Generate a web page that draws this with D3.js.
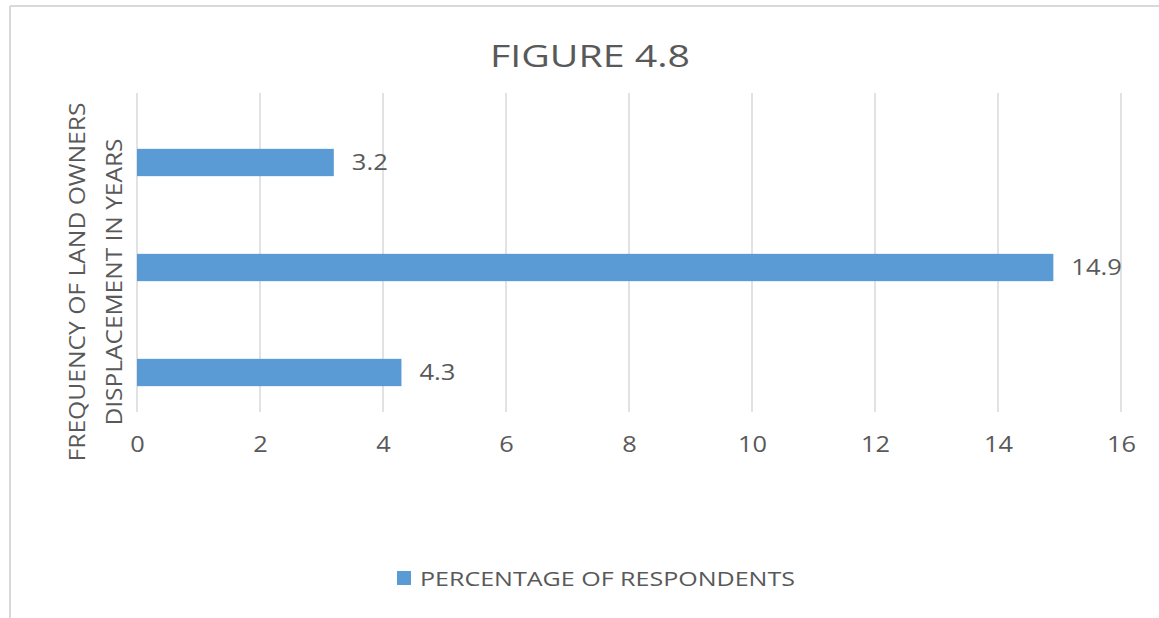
<html>
<head>
<script src="https://d3js.org/d3.v7.min.js"></script>
<style>
body { margin: 0; background: #fff; }
text { font-family: "Open Sans", sans-serif; fill: #595959; }
</style>
</head>
<body>
<svg id="chart" width="1159" height="618"></svg>
<script>
// data
var categories = ["a", "b", "c"];     // three unlabeled categories, top to bottom
var values = [3.2, 14.9, 4.3];
var xTicks = [0, 2, 4, 6, 8, 10, 12, 14, 16];
var seriesName = "PERCENTAGE OF RESPONDENTS";
var titleText = "FIGURE 4.8";
var yTitleLines = ["FREQUENCY OF LAND OWNERS", "DISPLACEMENT IN YEARS"];

var svg = d3.select("#chart");
var barColor = "#5b9bd5";

// the original font is wider than Open Sans, stretch numbers a bit
var numLen = function(s) {
  s = String(s);
  var w = 0;
  for (var i = 0; i < s.length; i++) w += (s[i] == "." ? 7 : 14.5);
  return w;
};

// outer border (only top and left visible)
svg.append("line").attr("x1", 10).attr("x2", 1159).attr("y1", 6).attr("y2", 6)
  .attr("stroke", "#d9d9d9").attr("stroke-width", 2);
svg.append("line").attr("x1", 10).attr("x2", 10).attr("y1", 6).attr("y2", 618)
  .attr("stroke", "#d9d9d9").attr("stroke-width", 2);

var xScale = d3.scaleLinear().domain([0, 16]).range([137, 1121]);
var yScale = d3.scaleBand().domain(categories).range([110, 425]).paddingInner(0.74).paddingOuter(0.37);

var gridTop = 93, gridBottom = 412;

// vertical gridlines
svg.selectAll("line.grid").data(xTicks).enter().append("line")
  .attr("class", "grid")
  .attr("x1", function(d) { return xScale(d); })
  .attr("x2", function(d) { return xScale(d); })
  .attr("y1", gridTop)
  .attr("y2", gridBottom)
  .attr("stroke", "#d9d9d9")
  .attr("stroke-width", 1.5);

// x axis labels
var xAxis = d3.axisBottom(xScale).tickValues(xTicks).tickSize(0).tickPadding(0);
var gx = svg.append("g").attr("transform", "translate(0," + 452 + ")").call(xAxis);
gx.select(".domain").remove();
gx.selectAll("text").attr("dy", 0).style("font-size", "21px").attr("fill", "#595959")
  .attr("textLength", function(d) { return numLen(d); })
  .attr("lengthAdjust", "spacingAndGlyphs");

// bars
svg.selectAll("rect.bar").data(values).enter().append("rect")
  .attr("class", "bar")
  .attr("x", xScale(0))
  .attr("y", function(d, i) { return yScale(categories[i]); })
  .attr("width", function(d) { return xScale(d) - xScale(0); })
  .attr("height", yScale.bandwidth())
  .attr("fill", barColor);

// value labels
svg.selectAll("text.val").data(values).enter().append("text")
  .attr("class", "val")
  .attr("x", function(d) { return xScale(d) + 18; })
  .attr("y", function(d, i) { return yScale(categories[i]) + yScale.bandwidth() / 2; })
  .attr("dy", "0.35em")
  .style("font-size", "21px")
  .attr("textLength", function(d) { return numLen(d); })
  .attr("lengthAdjust", "spacingAndGlyphs")
  .text(function(d) { return d; });

// title
svg.append("text")
  .attr("x", 590).attr("y", 67)
  .attr("text-anchor", "middle")
  .style("font-size", "31px")
  .attr("textLength", 200)
  .attr("lengthAdjust", "spacingAndGlyphs")
  .text(titleText);

// y axis title, two rotated lines
var yTitleLen = [359, 287];
svg.selectAll("text.ytitle").data(yTitleLines).enter().append("text")
  .attr("class", "ytitle")
  .attr("transform", function(d, i) { return "translate(" + (i == 0 ? 85 : 122) + ",282) rotate(-90)"; })
  .attr("text-anchor", "middle")
  .style("font-size", "22px")
  .attr("textLength", function(d, i) { return yTitleLen[i]; })
  .attr("lengthAdjust", "spacingAndGlyphs")
  .text(function(d) { return d; });

// legend
svg.append("rect").attr("x", 397).attr("y", 571).attr("width", 14).attr("height", 14).attr("fill", barColor);
svg.append("text").attr("x", 420).attr("y", 586)
  .style("font-size", "20px")
  .attr("textLength", 375)
  .attr("lengthAdjust", "spacingAndGlyphs")
  .text(seriesName);
</script>
</body>
</html>
